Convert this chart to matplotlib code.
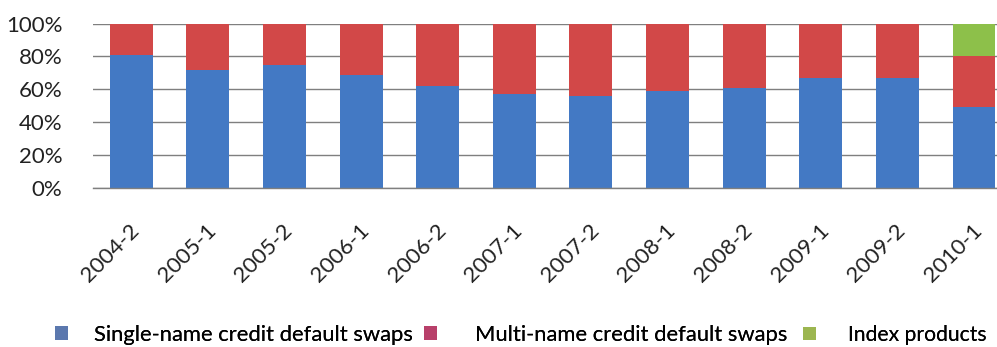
import matplotlib
matplotlib.use("Agg")
import matplotlib.pyplot as plt
from matplotlib.patches import Patch
from matplotlib.ticker import FuncFormatter
from matplotlib.transforms import ScaledTranslation

periods = ["2004-2", "2005-1", "2005-2", "2006-1", "2006-2", "2007-1",
           "2007-2", "2008-1", "2008-2", "2009-1", "2009-2", "2010-1"]
single_name = [81, 72, 75, 69, 62, 57, 56, 59, 61, 67, 67, 49]
multi_name = [19, 28, 25, 31, 38, 43, 44, 41, 39, 33, 33, 31]
index_products = [0, 0, 0, 0, 0, 0, 0, 0, 0, 0, 0, 20]
series_names = ["Single-name credit default swaps",
                "Multi-name credit default swaps", "Index products"]
yticks = [0, 20, 40, 60, 80, 100]

colors = ["#4379C4", "#D24848", "#8DC04A"]
legend_colors = ["#5B78AE", "#B8406A", "#9CB650"]

plt.rcParams['font.family'] = ['Lato', 'DejaVu Sans']

fig = plt.figure(figsize=(9.97, 3.47), dpi=100)
ax = fig.add_axes([0.0933, 0.458, 0.922, 0.474])

x = list(range(len(periods)))
w = 0.56
ax.bar(x, single_name, width=w, color=colors[0], zorder=2)
ax.bar(x, multi_name, width=w, bottom=single_name, color=colors[1], zorder=2)
bottom3 = [a + b for a, b in zip(single_name, multi_name)]
ax.bar(x, index_products, width=w, bottom=bottom3, color=colors[2], zorder=2)

ax.set_xlim(-0.5, len(periods) - 0.5)
ax.set_ylim(0, 100)
ax.set_yticks(yticks)
ax.yaxis.set_major_formatter(FuncFormatter(lambda v, p: f"{int(v)}%"))
ax.grid(axis='y', color='#7F7F7F', linewidth=1.0, zorder=0)
for s in ['left', 'right', 'top']:
    ax.spines[s].set_visible(False)
ax.spines['bottom'].set_color('#7F7F7F')
ax.spines['bottom'].set_linewidth(1.0)
ax.tick_params(axis='both', length=0, labelsize=16, colors='#222222')
ax.tick_params(axis='y', pad=22)
ax.tick_params(axis='x', pad=28)
ax.set_xticks(x)
ax.set_xticklabels(periods, rotation=45, ha='right', va='center',
                   rotation_mode='anchor')
shift = ScaledTranslation(0.05, 0, fig.dpi_scale_trans)
for lab in ax.get_xticklabels():
    lab.set_transform(lab.get_transform() + shift)

marker_x = [55, 424, 803]
pads = [1.19, 1.72, 1.5]
sizes = [15.8, 15.8, 15.2]
for name, c, mx, pd, fs in zip(series_names, legend_colors, marker_x, pads, sizes):
    leg = fig.legend([Patch(facecolor=c, edgecolor='none')], [name],
                     loc='center left', bbox_to_anchor=(mx / 997, 0.035),
                     frameon=False, fontsize=fs, handlelength=0.6 * 15.8 / fs,
                     handleheight=0.6 * 15.8 / fs, handletextpad=pd,
                     borderpad=0, borderaxespad=0)
    fig.add_artist(leg)

fig.savefig("out.png", dpi=100)
